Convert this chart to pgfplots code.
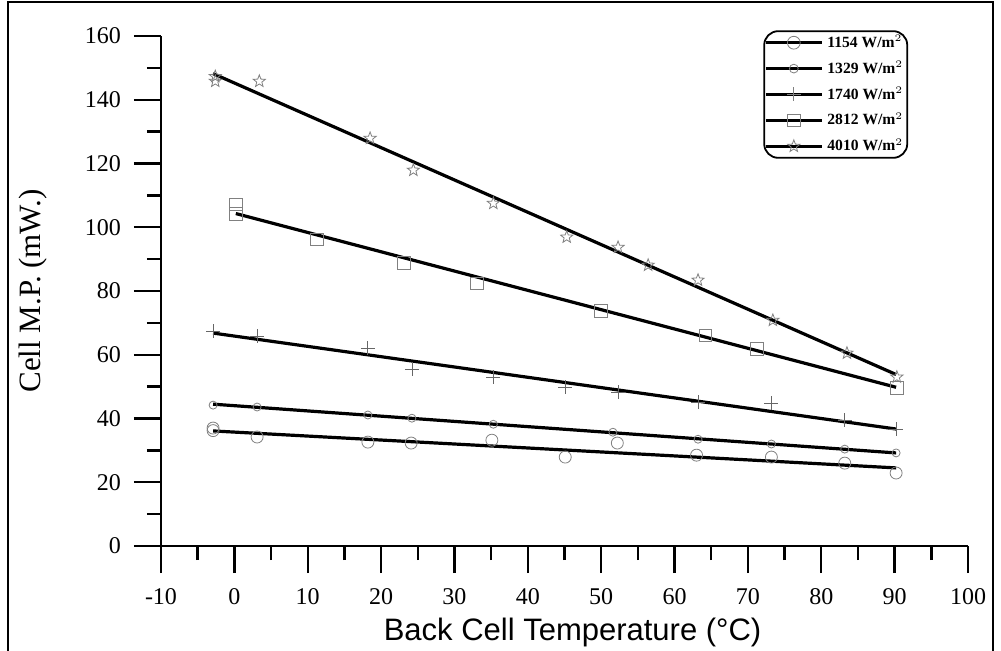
\documentclass[border=0pt]{standalone}
\usepackage{pgfplots}
\pgfplotsset{compat=1.18}
\usepackage{fontspec}
\setmainfont{Liberation Serif}
\setsansfont{Liberation Sans}
\pgfdeclareplotmark{ostar}{%
  \pgfpathmoveto{\pgfpointpolar{90}{\pgfplotmarksize}}%
  \pgfpathlineto{\pgfpointpolar{126}{0.42\pgfplotmarksize}}%
  \pgfpathlineto{\pgfpointpolar{162}{\pgfplotmarksize}}%
  \pgfpathlineto{\pgfpointpolar{198}{0.42\pgfplotmarksize}}%
  \pgfpathlineto{\pgfpointpolar{234}{\pgfplotmarksize}}%
  \pgfpathlineto{\pgfpointpolar{270}{0.42\pgfplotmarksize}}%
  \pgfpathlineto{\pgfpointpolar{306}{\pgfplotmarksize}}%
  \pgfpathlineto{\pgfpointpolar{342}{0.42\pgfplotmarksize}}%
  \pgfpathlineto{\pgfpointpolar{18}{\pgfplotmarksize}}%
  \pgfpathlineto{\pgfpointpolar{54}{0.42\pgfplotmarksize}}%
  \pgfpathclose
  \pgfusepathqstroke}
\begin{document}
\begin{tikzpicture}
\useasboundingbox (-80.5pt,-52pt) rectangle (420pt,273pt);
\draw[line width=1pt] (-76.5pt,-60pt) -- (-76.5pt,272pt) -- (416pt,272pt) -- (416pt,-60pt);
\begin{axis}[
  at={(0pt,0pt)}, anchor=south west,
  scale only axis, width=403.5pt, height=255pt,
  xmin=-10, xmax=100, ymin=0, ymax=160,
  axis x line=bottom, axis y line=left,
  axis line style={-, line width=1.4pt},
  xtick={-10,0,...,100}, ytick={0,20,...,160},
  minor x tick num=1, minor y tick num=1,
  tick align=outside,
  major tick length=13.5pt, minor tick length=7pt,
  every tick/.style={black, line width=1.2pt},
  /pgf/number format/assume math mode=true,
  tick label style={font=\fontsize{12}{14}\selectfont},
  xticklabel style={yshift=-4pt},
  yticklabel style={xshift=-3pt},
  xlabel={Back Cell Temperature (°C)},
  ylabel={Cell M.P. (mW.)},
  every axis x label/.style={at={(axis description cs:0.51,0)}, yshift=-43pt, anchor=center, font=\sffamily\fontsize{15.5}{17}\selectfont},
  every axis y label/.style={at={(axis description cs:0,0.5)}, xshift=-64pt, rotate=90, anchor=center, font=\fontsize{15.5}{17}\selectfont},
  legend style={at={(axis cs:72.1,161.8)}, anchor=north west, rounded corners=7pt, draw=black, line width=0.9pt,
    font=\bfseries\fontsize{7.8}{8}\selectfont, row sep=1.4pt, inner xsep=0pt, inner ysep=0pt},
  legend cell align=left,
  legend image code/.code={\draw[mark repeat=2,mark phase=2,#1] plot coordinates {(0pt,0pt) (14pt,0pt) (28pt,0pt)};},
]
% legend images
\addlegendimage{black, line width=1.6pt, mark=o, mark size=3.2pt, mark options={gray, line width=0.4pt, solid}}
\addlegendentry{1154 W/m$^{2}$}
\addlegendimage{black, line width=1.6pt, mark=o, mark size=2.2pt, mark options={gray, line width=0.4pt, solid}}
\addlegendentry{1329 W/m$^{2}$}
\addlegendimage{black, line width=1.6pt, mark=+, mark size=3.5pt, mark options={gray, line width=0.4pt, solid}}
\addlegendentry{1740 W/m$^{2}$}
\addlegendimage{black, line width=1.6pt, mark=square, mark size=3.2pt, mark options={gray, line width=0.4pt, solid}}
\addlegendentry{2812 W/m$^{2}$}
\addlegendimage{black, line width=1.6pt, mark=ostar, mark size=3.2pt, mark options={gray, line width=0.4pt, solid}}
\addlegendentry{4010 W/m$^{2}$}
% data markers
\addplot[only marks, mark=o, mark size=3pt, gray, line width=0.4pt, forget plot] coordinates {
(-2.9,37.0) (-2.9,36.2) (3.1,34.2) (18.2,32.6) (24.1,32.3) (35.1,33.2) (45.1,27.9) (52.2,32.3) (63,28.5) (73.2,27.9) (83.2,26) (90.2,22.9)};
\addplot[only marks, mark=o, mark size=2pt, gray, line width=0.4pt, forget plot] coordinates {
(-2.9,44.2) (3.1,43.6) (18.2,41.1) (24.2,40.1) (35.3,38.2) (51.6,35.7) (63.2,33.5) (73.2,32.0) (83.2,30.4) (90.2,29.2)};
\addplot[only marks, mark=+, mark size=3.5pt, gray!80!black, line width=0.4pt, forget plot] coordinates {
(-2.9,67.4) (3.1,65.8) (18.2,62.0) (24.2,55.5) (35.3,53.0) (45.1,49.8) (52.3,48.3) (63.2,45.1) (73.2,44.8) (83.2,39.5) (90.2,36.7)};
\addplot[only marks, mark=square, mark size=3.2pt, gray, line width=0.4pt, forget plot] coordinates {
(0.2,107.2) (0.2,104.1) (11.3,96.2) (23.1,88.7) (33.1,82.4) (50,73.7) (64.2,66.1) (71.2,61.8) (90.3,49.5)};
\addplot[only marks, mark=ostar, mark size=3.2pt, gray, line width=0.4pt, forget plot] coordinates {
(-2.6,147.3) (-2.6,145.8) (3.4,145.8) (18.5,127.9) (24.4,117.9) (35.3,107.5) (45.3,96.9) (52.3,93.7) (56.4,88.1) (63.2,83.4) (73.4,70.8) (83.5,60.5) (90.3,53)};
% fitted lines
\addplot[black, line width=1.6pt, forget plot] coordinates {(-2.9,36.1) (90.2,24.5)};
\addplot[black, line width=1.6pt, forget plot] coordinates {(-2.9,44.5) (90.2,29.2)};
\addplot[black, line width=1.6pt, forget plot] coordinates {(-2.9,66.8) (90.2,36.7)};
\addplot[black, line width=1.6pt, forget plot] coordinates {(0.2,104.3) (90.2,49.8)};
\addplot[black, line width=1.6pt, forget plot] coordinates {(-2.9,148.2) (90.2,53.8)};
\end{axis}
\end{tikzpicture}
\end{document}
